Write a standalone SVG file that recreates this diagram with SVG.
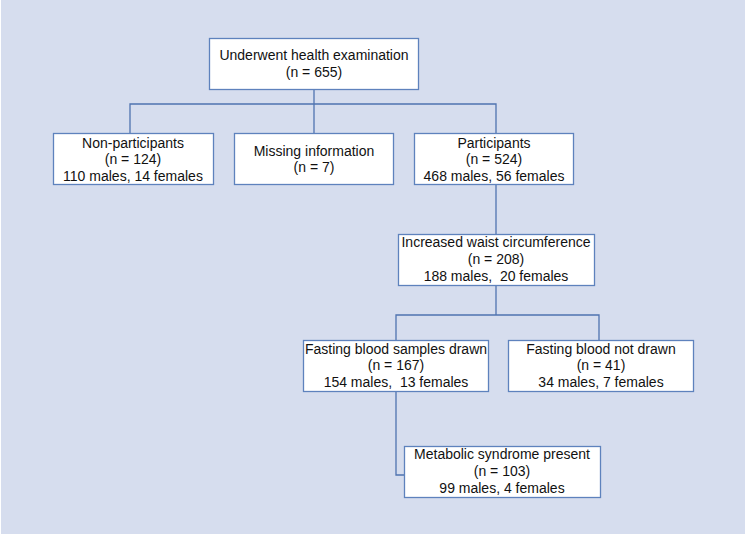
<svg xmlns="http://www.w3.org/2000/svg" width="746" height="538" viewBox="0 0 746 538">
<style>
.bg{fill:#d6ddee}
.box{fill:#ffffff;stroke:#5e82bd;stroke-width:1.3}
.ln{fill:none;stroke:#4f73b0;stroke-width:1.3}
text{font-family:"Liberation Sans",Arial,sans-serif;font-size:14px;fill:#111111;text-anchor:middle;white-space:pre}
</style>
<rect x="0" y="0" width="746" height="538" fill="#ffffff"/>
<rect class="bg" x="1" y="0" width="744" height="534"/>
<g id="connectors">
<polyline class="ln" points="314,89 314,104"/>
<polyline class="ln" points="130,133 130,104 496,104 496,133"/>
<polyline class="ln" points="314,104 314,133"/>
<polyline class="ln" points="496,185 496,234"/>
<polyline class="ln" points="496,286 496,315"/>
<polyline class="ln" points="396,340 396,315 599,315 599,340"/>
<polyline class="ln" points="396,392 396,475 404,475"/>
</g>
<g id="n_top">
<rect class="box" x="209.5" y="38.5" width="209" height="51"/>
<text x="314" y="60">Underwent health examination</text>
<text x="314" y="77">(n = 655)</text>
</g>
<g id="n_nonpart">
<rect class="box" x="53.5" y="133.5" width="160" height="51"/>
<text x="133" y="148">Non-participants</text>
<text x="133" y="164">(n = 124)</text>
<text x="133" y="181">110 males, 14 females</text>
</g>
<g id="n_missing">
<rect class="box" x="234.5" y="133.5" width="159" height="51"/>
<text x="314" y="156">Missing information</text>
<text x="314" y="172">(n = 7)</text>
</g>
<g id="n_part">
<rect class="box" x="414.5" y="133.5" width="159" height="51"/>
<text x="494" y="148">Participants</text>
<text x="494" y="164">(n = 524)</text>
<text x="494" y="181">468 males, 56 females</text>
</g>
<g id="n_waist">
<rect class="box" x="398.5" y="234.5" width="196" height="51"/>
<text x="496" y="247">Increased waist circumference</text>
<text x="496" y="264">(n = 208)</text>
<text x="496" y="281">188 males,  20 females</text>
</g>
<g id="n_drawn">
<rect class="box" x="303.5" y="340.5" width="185" height="51"/>
<text x="396" y="354">Fasting blood samples drawn</text>
<text x="396" y="370">(n = 167)</text>
<text x="396" y="387">154 males,  13 females</text>
</g>
<g id="n_notdrawn">
<rect class="box" x="508.5" y="340.5" width="185" height="51"/>
<text x="601" y="354">Fasting blood not drawn</text>
<text x="601" y="370">(n = 41)</text>
<text x="601" y="387">34 males, 7 females</text>
</g>
<g id="n_metab">
<rect class="box" x="404.5" y="446.5" width="196" height="51"/>
<text x="502" y="459">Metabolic syndrome present</text>
<text x="502" y="476">(n = 103)</text>
<text x="502" y="493">99 males, 4 females</text>
</g>
</svg>
